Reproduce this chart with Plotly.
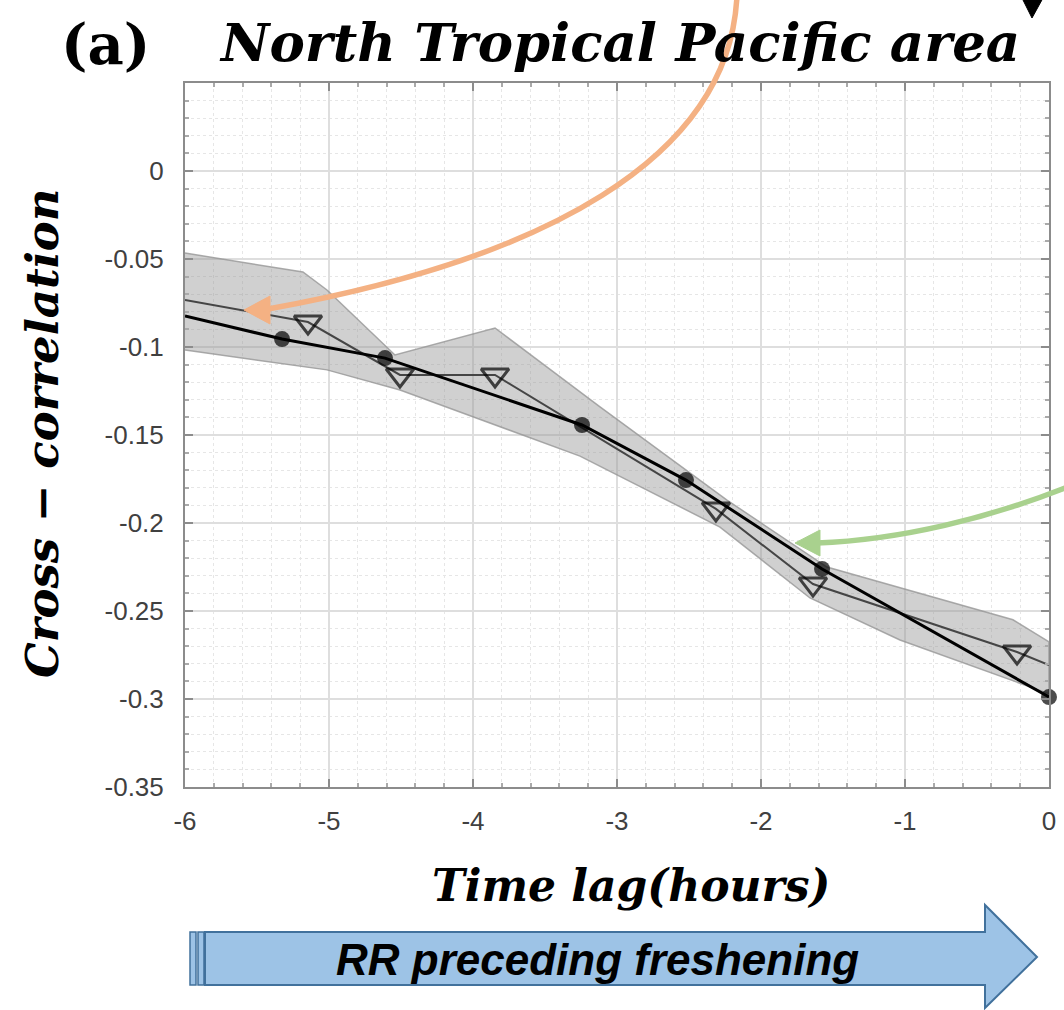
import plotly.graph_objects as go

# ---------------- data ----------------
lag_black = [-6.0, -5.326, -4.611, -3.243, -2.521, -1.576, 0.0]
corr_black = [-0.0824, -0.0955, -0.1063, -0.1443, -0.1756, -0.2261, -0.2989]
black_marker_size = [0, 16, 16, 16, 16, 16, 16]

lag_gray = [-6.0, -5.146, -4.507, -3.847, -2.313, -1.639, -0.222, 0.0]
corr_gray = [-0.0733, -0.0858, -0.1159, -0.1159, -0.192, -0.2347, -0.2733, -0.2807]
gray_marker_size = [0, 24, 24, 24, 24, 24, 24, 0]

band_upper_lag = [-6.0, -5.181, -5.014, -4.542, -3.847, -3.118, -2.236, -1.542, -0.25, 0.0]
band_upper = [-0.0466, -0.0574, -0.0676, -0.1045, -0.0892, -0.134, -0.187, -0.225, -0.255, -0.2676]
band_lower_lag = [-6.0, -5.014, -4.507, -3.257, -2.285, -1.66, -1.035, 0.0]
band_lower = [-0.1017, -0.113, -0.1244, -0.162, -0.2023, -0.2426, -0.2665, -0.297]

x_tickvals = [-6, -5, -4, -3, -2, -1, 0]
x_ticktext = ["-6", "-5", "-4", "-3", "-2", "-1", "0"]
y_tickvals = [-0.35, -0.3, -0.25, -0.2, -0.15, -0.1, -0.05, 0]
y_ticktext = ["-0.35", "-0.3", "-0.25", "-0.2", "-0.15", "-0.1", "-0.05", "0"]

title_text = "North Tropical Pacific area"
panel_label = "(a)"
x_title = "Time lag(hours)"
y_title = "Cross \u2212 correlation"
arrow_text = "RR preceding freshening"

# ---------------- layout geometry ----------------
W, H = 1064, 1010
ML, MR, MT, MB = 185, 15, 83, 223
PW, PH = W - ML - MR, H - MT - MB


def px(x):
    return (x - ML) / PW


def py(y):
    return (H - MB - y) / PH


def path(points_cmds):
    out = []
    for item in points_cmds:
        if isinstance(item, str):
            out.append(item)
        else:
            out.append(f"{px(item[0]):.5f},{py(item[1]):.5f}")
    return " ".join(out)


fig = go.Figure()

# shaded band
fig.add_trace(go.Scatter(
    x=band_upper_lag + band_lower_lag[::-1],
    y=band_upper + band_lower[::-1],
    fill="toself",
    fillcolor="rgba(150,150,150,0.45)",
    line=dict(color="rgba(150,150,150,0.8)", width=1.5),
    mode="lines",
    hoverinfo="skip",
    showlegend=False,
))

# gray line with open down-triangles
fig.add_trace(go.Scatter(
    x=lag_gray, y=corr_gray,
    mode="lines+markers",
    line=dict(color="#454545", width=2),
    marker=dict(symbol="triangle-down-open", size=gray_marker_size,
                color="black", line=dict(color="black", width=3)),
    cliponaxis=False,
    showlegend=False,
))

# black line with filled circles
fig.add_trace(go.Scatter(
    x=lag_black, y=corr_black,
    mode="lines+markers",
    line=dict(color="black", width=3),
    marker=dict(symbol="circle", size=black_marker_size, color="black",
                line=dict(width=0)),
    cliponaxis=False,
    showlegend=False,
))

axis_common = dict(
    showline=True, linecolor="#8c8c8c", linewidth=2, mirror="ticks",
    ticks="inside", ticklen=8, tickcolor="#8c8c8c", tickwidth=1.5,
    showgrid=True, gridcolor="#dedede", gridwidth=1.5,
    zeroline=False,
    tickfont=dict(family="Liberation Sans, Arial", size=26, color="#404040"),
)

fig.update_xaxes(
    range=[-6, 0], tickvals=x_tickvals, ticktext=x_ticktext,
    ticklabelstandoff=10,
    minor=dict(dtick=0.2, ticks="inside", ticklen=4, tickcolor="#aaaaaa",
               showgrid=True, gridcolor="#e6e6e6", griddash="dot", gridwidth=1.3),
    **axis_common,
)
fig.update_yaxes(
    range=[-0.35, 0.05], tickvals=y_tickvals, ticktext=y_ticktext,
    ticklabelstandoff=14,
    minor=dict(dtick=0.01, ticks="inside", ticklen=4, tickcolor="#aaaaaa",
               showgrid=True, gridcolor="#e6e6e6", griddash="dot", gridwidth=1.3),
    **axis_common,
)

shapes = []
orange = "#F4B183"
green = "#A9D18E"
# orange curved arrow
shapes.append(dict(type="path", xref="paper", yref="paper",
                   path=path(["M", (737, -5), "C", (730, 160), (540, 260), (268, 309)]),
                   line=dict(color=orange, width=5.5)))
shapes.append(dict(type="path", xref="paper", yref="paper",
                   path=path(["M", (244, 310), "L", (270, 296), "L", (270, 324), "Z"]),
                   fillcolor=orange, line=dict(color=orange, width=1)))
# green curved arrow
shapes.append(dict(type="path", xref="paper", yref="paper",
                   path=path(["M", (1070, 486), "C", (990, 518), (900, 540), (817, 543)]),
                   line=dict(color=green, width=5.5)))
shapes.append(dict(type="path", xref="paper", yref="paper",
                   path=path(["M", (795, 543), "L", (820, 530), "L", (820, 556), "Z"]),
                   fillcolor=green, line=dict(color=green, width=1)))
# black arrow head at top right
shapes.append(dict(type="path", xref="paper", yref="paper",
                   path=path(["M", (1022, -2), "L", (1043, -2), "L", (1032, 18), "Z"]),
                   fillcolor="black", line=dict(color="black", width=1)))
# bottom block arrow
blue_fill = "#9DC3E6"
blue_line = "#41719C"
shapes.append(dict(type="path", xref="paper", yref="paper",
                   path=path(["M", (205, 932), "L", (985, 932), "L", (985, 905), "L", (1037, 957),
                              "L", (985, 1008), "L", (985, 985), "L", (205, 985), "Z"]),
                   fillcolor=blue_fill, line=dict(color=blue_line, width=2)))
for (a, b) in [(190, 196), (198, 204)]:
    shapes.append(dict(type="path", xref="paper", yref="paper",
                       path=path(["M", (a, 932), "L", (b, 932), "L", (b, 985), "L", (a, 985), "Z"]),
                       fillcolor=blue_fill, line=dict(color=blue_line, width=1.5)))

annotations = [
    dict(text=panel_label, x=px(105), y=py(44), xref="paper", yref="paper",
         showarrow=False, xanchor="center", yanchor="middle",
         font=dict(family="DejaVu Serif", size=56, color="black", weight="bold")),
    dict(text=f"<i>{title_text}</i>", x=px(619), y=py(42), xref="paper", yref="paper",
         showarrow=False, xanchor="center", yanchor="middle",
         font=dict(family="DejaVu Serif", size=53, color="black", weight="bold")),
    dict(text=f"<i>{x_title}</i>", x=px(631), y=py(885), xref="paper", yref="paper",
         showarrow=False, xanchor="center", yanchor="middle",
         font=dict(family="DejaVu Serif", size=44, color="black", weight="bold")),
    dict(text=f"<i>{y_title}</i>", x=px(42), y=py(433), xref="paper", yref="paper",
         showarrow=False, xanchor="center", yanchor="middle", textangle=-90,
         font=dict(family="DejaVu Serif", size=45, color="black", weight="bold")),
    dict(text=f"<b><i>{arrow_text}</i></b>", x=px(597), y=py(960), xref="paper", yref="paper",
         showarrow=False, xanchor="center", yanchor="middle",
         font=dict(family="Liberation Sans Narrow, Liberation Sans, Arial", size=44, color="black")),
]

fig.update_layout(
    width=W, height=H,
    margin=dict(l=ML, r=MR, t=MT, b=MB, autoexpand=False),
    paper_bgcolor="white", plot_bgcolor="white",
    showlegend=False,
    shapes=shapes,
    annotations=annotations,
)

fig.write_html("out.html")
